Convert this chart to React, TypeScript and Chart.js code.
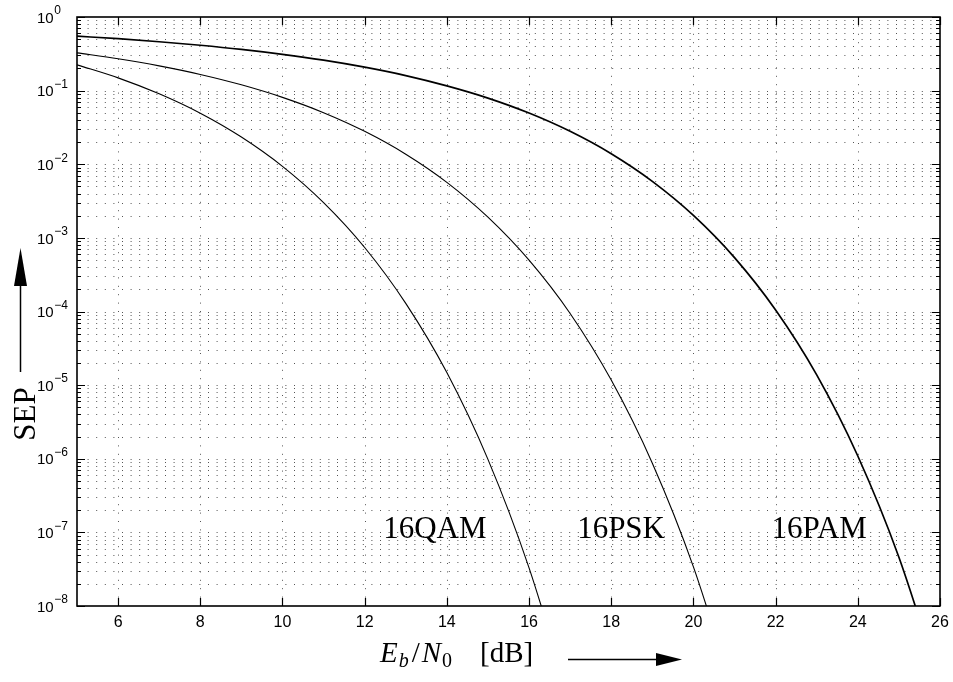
import React, { useEffect, useRef } from "react";
import { Chart, registerables } from "chart.js";

Chart.register(...registerables);

// Eb/N0 in dB
const ebn0 = [5, 6, 7, 8, 9, 10, 11, 12, 13, 14, 15, 16, 17, 18, 19, 20, 21, 22, 23, 24, 25, 26];

const sep16QAM = [0.224, 0.149, 0.0904, 0.0493, 0.0234, 0.00936, 0.00301, 7.4e-4, 1.29e-4, 1.48e-5, 9.8e-7, 3.3e-8, 4.9e-10,
  null, null, null, null, null, null, null, null, null];
const sep16PSK = [0.326, 0.271, 0.217, 0.166, 0.12, 0.081, 0.0502, 0.028, 0.0137, 0.00568, 0.00191, 4.98e-4, 9.4e-5, 1.17e-5, 8.7e-7, 3.4e-8, 5.9e-10,
  null, null, null, null, null];
const sep16PAM = [0.549, 0.507, 0.461, 0.413, 0.363, 0.311, 0.259, 0.208, 0.16, 0.116, 0.0792, 0.0496, 0.028, 0.0139, 0.00586, 0.00202,
  5.4e-4, 1.05e-4, 1.38e-5, 1.09e-6, 4.6e-8, 8.7e-10];

const seriesNames = ["16QAM", "16PSK", "16PAM"];
const xTicks = [6, 8, 10, 12, 14, 16, 18, 20, 22, 24, 26];
const yDecades = [0, -1, -2, -3, -4, -5, -6, -7, -8];

const labelX = [12.45, 17.17, 21.9];
const labelY = 10 ** -7.07;

const toPts = (ys: (number | null)[]) =>
  ebn0.map((x, i) => ({ x, y: ys[i] })).filter((p) => p.y !== null) as { x: number; y: number }[];

const decorPlugin = {
  id: "decor",
  beforeDatasetsDraw(chart: any) {
    const { ctx, chartArea: a, scales } = chart;
    const xs = scales.x, ys = scales.y;
    ctx.save();
    ctx.strokeStyle = "#555";
    ctx.lineWidth = 1;
    ctx.setLineDash([1, 7.6]);
    for (let d = -8; d < 0; d++) {
      for (let k = 1; k <= 9; k++) {
        const v = k * 10 ** d;
        if (v <= 1e-8) continue;
        const y = Math.round(ys.getPixelForValue(v)) + 0.5;
        ctx.beginPath();
        ctx.moveTo(a.left + 2, y);
        ctx.lineTo(a.right, y);
        ctx.stroke();
      }
    }
    ctx.setLineDash([1, 7.4]);
    for (const t of xTicks) {
      if (t >= 26) continue;
      const x = Math.round(xs.getPixelForValue(t)) + 0.5;
      ctx.beginPath();
      ctx.moveTo(x, a.bottom);
      ctx.lineTo(x, a.top);
      ctx.stroke();
    }
    ctx.restore();
  },
  afterDatasetsDraw(chart: any) {
    const { ctx, chartArea: a, scales } = chart;
    const xs = scales.x, ys = scales.y;
    ctx.save();
    ctx.setLineDash([]);
    ctx.strokeStyle = "#000";
    ctx.lineWidth = 1.6;
    ctx.strokeRect(a.left, a.top, a.right - a.left, a.bottom - a.top);

    ctx.lineWidth = 1.2;
    ctx.beginPath();
    for (let d = -8; d <= 0; d++) {
      for (let k = 1; k <= 9; k++) {
        const v = k * 10 ** d;
        if (v > 1) continue;
        const y = Math.round(ys.getPixelForValue(v)) + 0.5;
        const len = k === 1 ? 8 : 4;
        ctx.moveTo(a.left, y);
        ctx.lineTo(a.left + len, y);
        ctx.moveTo(a.right, y);
        ctx.lineTo(a.right - len, y);
      }
    }
    for (const t of xTicks) {
      const x = Math.round(xs.getPixelForValue(t)) + 0.5;
      ctx.moveTo(x, a.bottom);
      ctx.lineTo(x, a.bottom - 8);
      ctx.moveTo(x, a.top);
      ctx.lineTo(x, a.top + 8);
    }
    ctx.stroke();

    const sans = "'Liberation Sans', Arial, sans-serif";
    ctx.fillStyle = "#000";
    ctx.textBaseline = "middle";
    ctx.textAlign = "center";
    ctx.font = "16px " + sans;
    for (const t of xTicks) {
      ctx.fillText(String(t), xs.getPixelForValue(t), a.bottom + 17);
    }
    for (const d of yDecades) {
      const y = ys.getPixelForValue(10 ** d);
      ctx.textAlign = "left";
      ctx.font = "15px " + sans;
      ctx.fillText("10", 37, y + 1.5);
      const w = ctx.measureText("10").width;
      ctx.font = "12px " + sans;
      ctx.fillText(d === 0 ? "0" : "\u2212" + String(-d), 37 + w + 0.5, y - 6);
    }

    ctx.textBaseline = "alphabetic";
    ctx.textAlign = "left";
    const serif = "'Liberation Serif', 'Times New Roman', serif";
    ctx.font = "31px " + serif;
    seriesNames.forEach((n, i) => {
      ctx.fillText(n, xs.getPixelForValue(labelX[i]), ys.getPixelForValue(labelY));
    });

    // x axis title: E_b/N_0 [dB]
    let cx = 380;
    const by = 662;
    const seg = (txt: string, font: string, dy = 0) => {
      ctx.font = font;
      ctx.fillText(txt, cx, by + dy);
      cx += ctx.measureText(txt).width;
    };
    seg("E", "italic 29px " + serif);
    cx += 1;
    seg("b", "italic 20px " + serif, 5);
    cx += 3;
    seg("/", "29px " + serif);
    cx += 2;
    seg("N", "italic 29px " + serif);
    cx += 1;
    seg("0", "20px " + serif, 5);
    cx = 480;
    seg("[dB]", "29px " + serif);

    // x arrow
    ctx.lineWidth = 1.5;
    ctx.beginPath();
    ctx.moveTo(568, 659.5);
    ctx.lineTo(658, 659.5);
    ctx.stroke();
    ctx.beginPath();
    ctx.moveTo(682, 659.5);
    ctx.lineTo(656, 653);
    ctx.lineTo(656, 666);
    ctx.closePath();
    ctx.fill();

    // y title: SEP rotated
    ctx.save();
    ctx.translate(35, 414);
    ctx.rotate(-Math.PI / 2);
    ctx.textAlign = "center";
    ctx.font = "31px " + serif;
    ctx.fillText("SEP", 0, 0);
    ctx.restore();

    // y arrow
    ctx.beginPath();
    ctx.moveTo(20.5, 372);
    ctx.lineTo(20.5, 283);
    ctx.stroke();
    ctx.beginPath();
    ctx.moveTo(20.5, 248);
    ctx.lineTo(14, 286);
    ctx.lineTo(27, 286);
    ctx.closePath();
    ctx.fill();

    ctx.restore();
  },
};

export default function App() {
  const ref = useRef<HTMLCanvasElement | null>(null);
  useEffect(() => {
    const prevMargin = document.body.style.margin;
    document.body.style.margin = "0";
    if (!ref.current) return;
    const mk = (ys: (number | null)[], w: number) => ({
      data: toPts(ys),
      borderColor: "#000",
      borderWidth: w,
      pointRadius: 0,
      fill: false,
      cubicInterpolationMode: "monotone" as const,
    });
    const chart = new Chart(ref.current, {
      type: "line",
      data: {
        datasets: [
          { label: seriesNames[0], ...mk(sep16QAM, 1.1) },
          { label: seriesNames[1], ...mk(sep16PSK, 1.1) },
          { label: seriesNames[2], ...mk(sep16PAM, 1.7) },
        ],
      },
      options: {
        animation: false,
        responsive: false,
        events: [],
        layout: { padding: { left: 77, top: 17, right: 13, bottom: 76 } },
        plugins: { legend: { display: false }, tooltip: { enabled: false } },
        scales: {
          x: { type: "linear", min: 5, max: 26, display: false },
          y: { type: "logarithmic", min: 1e-8, max: 1, display: false },
        },
      },
      plugins: [decorPlugin],
    });
    return () => {
      chart.destroy();
      document.body.style.margin = prevMargin;
    };
  }, []);
  return (
    <div style={{ width: 953, height: 682, background: "#fff", overflow: "hidden" }}>
      <canvas ref={ref} width={953} height={682} style={{ display: "block" }} />
    </div>
  );
}
